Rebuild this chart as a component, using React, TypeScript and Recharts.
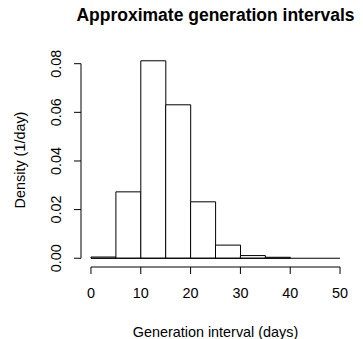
import { Bar, ComposedChart, Label, ReferenceLine, XAxis, YAxis } from "recharts";

// histogram bins (days) and density per bin (1/day)
const binStarts = [0, 5, 10, 15, 20, 25, 30, 35, 40, 45];
const binWidth = 5;
const densities = [0.0005, 0.0273, 0.0812, 0.0631, 0.0232, 0.0054, 0.0011, 0.0004, 0, 0];

const xTicks = [0, 10, 20, 30, 40, 50];
const yTicks = [0, 0.02, 0.04, 0.06, 0.08];

const data = binStarts.map((start, i) => ({
  bin: `${start}-${start + binWidth}`,
  mid: start + binWidth / 2,
  density: densities[i],
}));

const FONT = "'Liberation Sans', Arial, Helvetica, sans-serif";

function YTick({ x, y, payload }: any) {
  return (
    <text
      x={x}
      y={y}
      transform={`rotate(-90, ${x}, ${y})`}
      textAnchor="middle"
      fontSize={14.4}
      fill="#000">
      {Number(payload.value).toFixed(2)}
    </text>
  );
}

export default function App() {
  return (
    <div style={{ position: "absolute", left: 0, top: 0, width: 363, height: 339, fontFamily: FONT, background: "#fff" }}>
      <svg width={363} height={30} style={{ position: "absolute", left: 0, top: 0, pointerEvents: "none" }}>
        <text x={215.5} y={20.7} textAnchor="middle" fontSize={17.5} fontWeight="bold" fill="#000">
          Approximate generation intervals
        </text>
      </svg>
      <ComposedChart
        width={363}
        height={339}
        data={data}
        barCategoryGap={0}
        margin={{ top: 53, right: 13, bottom: 0, left: 0 }}>
        <XAxis
          xAxisId="num"
          dataKey="mid"
          type="number"
          domain={[-2, 52]}
          allowDataOverflow
          ticks={xTicks}
          height={72}
          axisLine={false}
          tickSize={7}
          tickMargin={14}
          tickLine={{ stroke: "#000" }}
          tick={{ fill: "#000", fontSize: 14.4 }}>
          <Label
            content={({ viewBox }: any) => (
              <text x={viewBox.x + viewBox.width / 2} y={viewBox.y + 70} textAnchor="middle" fontSize={14.4} fill="#000">
                Generation interval (days)
              </text>
            )}
          />
        </XAxis>
        <XAxis xAxisId="bins" dataKey="bin" hide height={0} padding={{ left: 10, right: 10 }} />
        <YAxis
          type="number"
          domain={[-0.0036, 0.0844]}
          allowDataOverflow
          ticks={yTicks}
          width={81}
          axisLine={false}
          tickSize={7}
          tickMargin={13}
          tickLine={{ stroke: "#000" }}
          tick={<YTick />}>
          <Label
            content={({ viewBox }: any) => {
              const cx = 25;
              const cy = viewBox.y + viewBox.height / 2;
              return (
                <text x={cx} y={cy} transform={`rotate(-90, ${cx}, ${cy})`} textAnchor="middle" fontSize={14.4} fill="#000">
                  Density (1/day)
                </text>
              );
            }}
          />
        </YAxis>
        <Bar
          xAxisId="bins"
          dataKey="density"
          fill="#fff"
          stroke="#000"
          strokeWidth={1}
          isAnimationActive={false}
        />
        {/* zero-height bins still have an outline along the baseline */}
        <ReferenceLine
          xAxisId="num"
          segment={[{ x: 0, y: 0 }, { x: 50, y: 0 }]}
          stroke="#000"
          ifOverflow="visible"
        />
        {/* R-style axis lines that run only between the first and last tick */}
        <ReferenceLine
          xAxisId="num"
          segment={[{ x: -2, y: 0 }, { x: -2, y: 0.08 }]}
          stroke="#000"
          ifOverflow="visible"
        />
        <ReferenceLine
          xAxisId="num"
          segment={[{ x: 0, y: -0.0036 }, { x: 50, y: -0.0036 }]}
          stroke="#000"
          ifOverflow="visible"
        />
      </ComposedChart>
    </div>
  );
}
